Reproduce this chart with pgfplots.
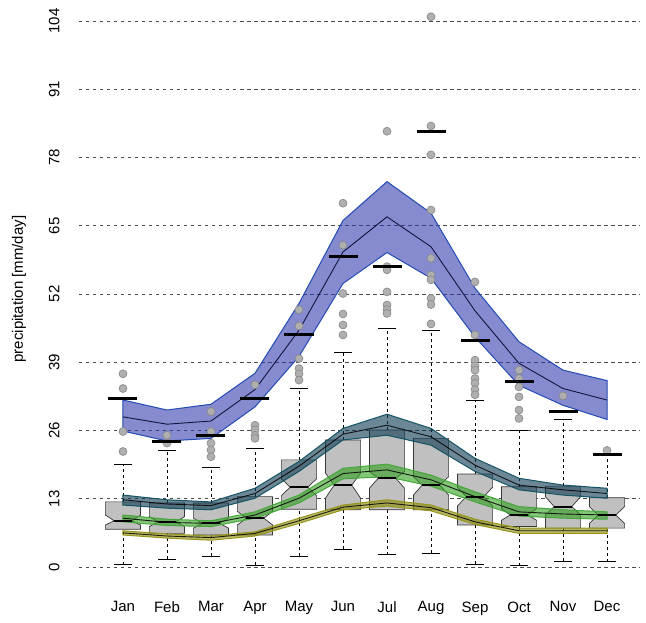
\documentclass[border=0pt]{standalone}
\usepackage{pgfplots}
\pgfplotsset{compat=1.18}
\usepackage{pgfplotstable}
\usepackage{fontspec}
\setmainfont{Liberation Sans}

\definecolor{boxgray}{RGB}{192,192,192}
\definecolor{boxedge}{RGB}{55,55,55}
\definecolor{outfill}{RGB}{175,175,175}
\definecolor{outedge}{RGB}{135,135,135}
\definecolor{bluefill}{RGB}{45,55,170}
\definecolor{blueedge}{RGB}{35,75,180}
\definecolor{tealfill}{RGB}{10,55,80}
\definecolor{tealedge}{RGB}{20,85,100}
\definecolor{greenfill}{RGB}{50,160,30}
\definecolor{greenedge}{RGB}{70,165,60}
\definecolor{olivefill}{RGB}{140,140,0}
\definecolor{oliveedge}{RGB}{150,150,30}

% band centre lines and observed bars
\pgfplotstableread{
m bc tc gc oc obs
1 28.6 12.8 9.3 6.5 32.1
2 27.2 12.0 8.5 5.9 23.9
3 27.8 11.7 8.3 5.6 25.1
4 33.8 14.0 9.9 6.4 32.1
5 45.1 19.2 13.1 8.8 44.3
6 60.0 25.3 17.8 11.4 59.2
7 66.7 27.0 18.5 12.2 57.2
8 61.0 24.8 16.6 11.3 82.9
9 48.8 19.4 13.4 8.6 43.1
10 38.8 15.6 10.5 6.9 35.3
11 34.0 14.7 10.1 6.9 29.6
12 31.8 14.0 9.9 6.9 21.5
}\centers

% box statistics
\pgfplotstableread{
m lw q1 med q3 uw
1 0.4 7.2 8.8 12.4 19.6
2 1.5 6.4 8.6 12.2 22.2
3 2.0 6.1 8.3 12.2 18.9
4 0.3 6.1 9.3 13.4 22.5
5 2.0 11.0 15.2 20.4 34.0
6 3.4 10.9 15.6 24.2 40.9
7 2.3 10.9 16.9 26.1 45.5
8 2.6 10.9 15.6 24.5 45.1
9 0.5 8.0 13.4 17.7 31.8
10 0.2 7.7 9.9 15.3 26.0
11 1.1 7.4 11.5 15.4 28.1
12 1.0 7.4 9.9 13.2 21.5
}\stats

% outliers
\pgfplotstableread{
m v
1 36.8
1 34.0
1 25.8
1 22.0
2 25.1
2 23.6
3 29.6
3 25.8
3 23.6
3 22.3
3 21.0
4 34.7
4 27.0
4 26.1
4 25.1
4 24.5
5 49.0
5 45.9
5 39.7
5 37.8
5 36.8
5 35.6
6 69.3
6 61.3
6 52.1
6 48.2
6 46.1
6 44.2
7 83.0
7 57.2
7 56.6
7 52.4
7 49.9
7 49.0
7 48.3
8 104.8
8 84.0
8 78.5
8 68.0
8 58.8
8 55.6
8 54.7
8 51.2
8 50.0
8 46.3
9 54.3
9 44.2
9 39.4
9 38.3
9 37.5
9 35.9
9 35.0
9 33.8
9 32.8
10 37.5
10 35.9
10 34.3
10 32.4
10 29.9
10 28.3
11 32.6
12 22.2
}\outl

\pgfplotsset{
  boxsty/.style={fill=boxgray, draw=boxedge, line width=0.7pt},
  bandline/.style={black, line width=0.9pt, opacity=0.85},
}

\begin{document}
\begin{tikzpicture}
\path (-79pt,-35pt) rectangle (567pt,588pt);
\begin{axis}[
  at={(0,0)}, anchor=south west, scale only axis,
  width=561pt, height=582.75pt,
  xmin=0, xmax=12.75, ymin=-4, ymax=107,
  axis line style={draw=none}, major tick length=0pt,
  xtick={1,2,3,4,5,6,7,8,9,10,11,12},
  xticklabels={Jan,Feb,Mar,Apr,May,Jun,Jul,Aug,Sep,Oct,Nov,Dec},
  ytick={0,13,26,39,52,65,78,91,104},
  ymajorgrids,
  grid style={dash pattern=on 3.5pt off 3.5pt, line width=0.9pt, black!70},
  tick label style={font=\fontsize{15}{17}\selectfont},
  /pgf/number format/assume math mode=true,
  yticklabel style={xshift=-16pt, rotate=90, anchor=south},
  xticklabel style={yshift=-10pt},
  ylabel={precipitation [mm/day]},
  every axis y label/.style={at={(axis description cs:-0.107,0.513)}, rotate=90, anchor=center, font=\fontsize{15}{17}\selectfont},
  clip=false,
  unbounded coords=jump,
]
% whiskers (dashed)
\addplot[black, line width=0.9pt, dash pattern=on 3pt off 3pt] coordinates {
 (1,0.4) (1,7.2) (1,nan) (1,12.4) (1,19.6) (1,nan)
 (2,1.5) (2,6.4) (2,nan) (2,12.2) (2,22.2) (2,nan)
 (3,2.0) (3,6.1) (3,nan) (3,12.2) (3,18.9) (3,nan)
 (4,0.3) (4,6.1) (4,nan) (4,13.4) (4,22.5) (4,nan)
 (5,2.0) (5,11.0) (5,nan) (5,20.4) (5,34.0) (5,nan)
 (6,3.4) (6,10.9) (6,nan) (6,24.2) (6,40.9) (6,nan)
 (7,2.3) (7,10.9) (7,nan) (7,26.1) (7,45.5) (7,nan)
 (8,2.6) (8,10.9) (8,nan) (8,24.5) (8,45.1) (8,nan)
 (9,0.5) (9,8.0) (9,nan) (9,17.7) (9,31.8) (9,nan)
 (10,0.2) (10,7.7) (10,nan) (10,15.3) (10,26.0) (10,nan)
 (11,1.1) (11,7.4) (11,nan) (11,15.4) (11,28.1) (11,nan)
 (12,1.0) (12,7.4) (12,nan) (12,13.2) (12,21.5) };
% whisker caps
\addplot[only marks, mark=-, mark size=9pt, mark options={line width=1pt, black}] table[x=m, y=lw] {\stats};
\addplot[only marks, mark=-, mark size=9pt, mark options={line width=1pt, black}] table[x=m, y=uw] {\stats};
% notched boxes
\addplot[boxsty] coordinates {(0.6,7.2) (1.4,7.2) (1.4,8.0) (1.2,8.8) (1.4,9.9) (1.4,12.4) (0.6,12.4) (0.6,9.9) (0.8,8.8) (0.6,8.0)} -- cycle;
\addplot[boxsty] coordinates {(1.6,6.4) (2.4,6.4) (2.4,7.7) (2.2,8.6) (2.4,9.6) (2.4,12.2) (1.6,12.2) (1.6,9.6) (1.8,8.6) (1.6,7.7)} -- cycle;
\addplot[boxsty] coordinates {(2.6,6.1) (3.4,6.1) (3.4,7.4) (3.2,8.3) (3.4,9.3) (3.4,12.2) (2.6,12.2) (2.6,9.3) (2.8,8.3) (2.6,7.4)} -- cycle;
\addplot[boxsty] coordinates {(3.6,6.1) (4.4,6.1) (4.4,8.0) (4.2,9.3) (4.4,10.6) (4.4,13.4) (3.6,13.4) (3.6,10.6) (3.8,9.3) (3.6,8.0)} -- cycle;
\addplot[boxsty] coordinates {(4.6,11.0) (5.4,11.0) (5.4,13.6) (5.2,15.2) (5.4,16.8) (5.4,20.4) (4.6,20.4) (4.6,16.8) (4.8,15.2) (4.6,13.6)} -- cycle;
\addplot[boxsty] coordinates {(5.6,10.9) (6.4,10.9) (6.4,13.1) (6.2,15.6) (6.4,17.9) (6.4,24.2) (5.6,24.2) (5.6,17.9) (5.8,15.6) (5.6,13.1)} -- cycle;
\addplot[boxsty] coordinates {(6.6,10.9) (7.4,10.9) (7.4,15.0) (7.2,16.9) (7.4,18.2) (7.4,26.1) (6.6,26.1) (6.6,18.2) (6.8,16.9) (6.6,15.0)} -- cycle;
\addplot[boxsty] coordinates {(7.6,10.9) (8.4,10.9) (8.4,13.7) (8.2,15.6) (8.4,17.2) (8.4,24.5) (7.6,24.5) (7.6,17.2) (7.8,15.6) (7.6,13.7)} -- cycle;
\addplot[boxsty] coordinates {(8.6,8.0) (9.4,8.0) (9.4,11.6) (9.2,13.4) (9.4,15.2) (9.4,17.7) (8.6,17.7) (8.6,15.2) (8.8,13.4) (8.6,11.6)} -- cycle;
\addplot[boxsty] coordinates {(9.6,7.7) (10.4,7.7) (10.4,8.9) (10.2,9.9) (10.4,11.1) (10.4,15.3) (9.6,15.3) (9.6,11.1) (9.8,9.9) (9.6,8.9)} -- cycle;
\addplot[boxsty] coordinates {(10.6,7.4) (11.4,7.4) (11.4,9.9) (11.2,11.5) (11.4,13.4) (11.4,15.4) (10.6,15.4) (10.6,13.4) (10.8,11.5) (10.6,9.9)} -- cycle;
\addplot[boxsty] coordinates {(11.6,7.4) (12.4,7.4) (12.4,8.3) (12.2,9.9) (12.4,11.5) (12.4,13.2) (11.6,13.2) (11.6,11.5) (11.8,9.9) (11.6,8.3)} -- cycle;
% medians
\addplot[only marks, mark=-, mark size=8.8pt, mark options={line width=2pt, black}] table[x=m, y=med] {\stats};
% outliers
\addplot[only marks, mark=*, mark size=4pt, mark options={fill=outfill, draw=outedge, line width=0.6pt}] table[x=m, y=v] {\outl};
% observed bars
\addplot[only marks, mark=-, mark size=14.5pt, mark options={line width=2.8pt, black}] table[x=m, y=obs] {\centers};

% olive band
\addplot[fill=olivefill, fill opacity=0.6, draw=oliveedge, line width=1pt] coordinates {
 (1,6.9) (2,6.3) (3,5.9) (4,6.7) (5,9.3) (6,11.8) (7,12.8) (8,11.8) (9,9.1) (10,7.4) (11,7.4) (12,7.4)
 (12,6.4) (11,6.4) (10,6.4) (9,8.1) (8,10.7) (7,11.6) (6,10.9) (5,8.3) (4,5.9) (3,5.1) (2,5.5) (1,6.1) } -- cycle;
\addplot[bandline] table[x=m, y=oc] {\centers};
% green band
\addplot[fill=greenfill, fill opacity=0.6, draw=greenedge, line width=1pt] coordinates {
 (1,9.9) (2,9.1) (3,8.8) (4,10.5) (5,13.7) (6,18.8) (7,19.6) (8,17.5) (9,14.3) (10,11.5) (11,10.9) (12,10.5)
 (12,9.1) (11,9.3) (10,9.7) (9,12.4) (8,15.4) (7,17.2) (6,16.8) (5,12.2) (4,9.3) (3,7.7) (2,7.9) (1,8.6) } -- cycle;
\addplot[bandline] table[x=m, y=gc] {\centers};
% teal band
\addplot[fill=tealfill, fill opacity=0.6, draw=tealedge, line width=1pt] coordinates {
 (1,13.7) (2,12.8) (3,12.4) (4,15.0) (5,20.1) (6,26.4) (7,29.1) (8,26.4) (9,20.7) (10,16.9) (11,15.6) (12,15.0)
 (12,13.1) (11,13.7) (10,14.7) (9,18.2) (8,23.2) (7,25.1) (6,24.2) (5,18.2) (4,13.1) (3,10.9) (2,11.2) (1,11.8) } -- cycle;
\addplot[bandline] table[x=m, y=tc] {\centers};
% blue band
\addplot[fill=bluefill, fill opacity=0.58, draw=blueedge, line width=1pt] coordinates {
 (1,31.8) (2,29.9) (3,31.0) (4,36.9) (5,50.2) (6,66.0) (7,73.4) (8,67.4) (9,53.1) (10,42.9) (11,37.5) (12,35.5)
 (12,28.1) (11,30.8) (10,34.6) (9,43.8) (8,55.0) (7,59.9) (6,54.0) (5,40.1) (4,30.5) (3,24.5) (2,24.0) (1,25.9) } -- cycle;
\addplot[black!85!blue, line width=0.9pt, opacity=0.85] table[x=m, y=bc] {\centers};
\end{axis}
\end{tikzpicture}
\end{document}
